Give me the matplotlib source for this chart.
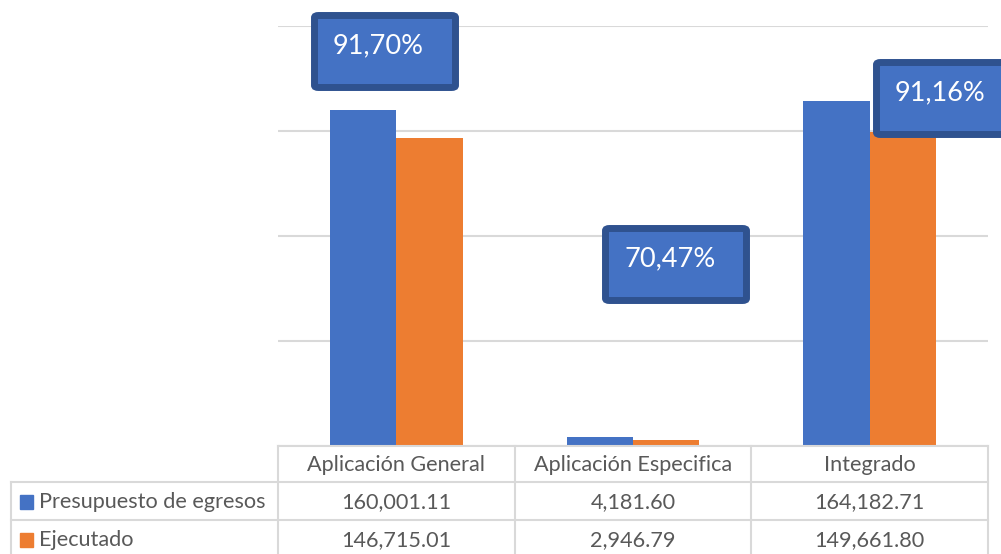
import numpy as np
import matplotlib.pyplot as plt
from matplotlib.patches import FancyBboxPatch, Rectangle
from matplotlib.lines import Line2D

# Datos
categorias = ["Aplicación General", "Aplicación Especifica", "Integrado"]
series = ["Presupuesto de egresos", "Ejecutado"]
presupuesto = [160001.11, 4181.60, 164182.71]
ejecutado = [146715.01, 2946.79, 149661.80]

colores = ["#4472c4", "#ed7d31"]
gris_texto = "#595959"
gris_linea = "#d9d9d9"
fuente = "Lato"
tam = 15.6

W, H = 1001, 554
fig = plt.figure(figsize=(W / 100, H / 100), dpi=100)


def fx(x):
    return x / W


def fy(y):
    return 1 - y / H


# Area del grafico (en pixeles de la imagen)
x0, x1, y_top, y_base = 278, 988, 26, 446
ax = fig.add_axes([fx(x0), fy(y_base), fx(x1) - fx(x0), fy(y_top) - fy(y_base)])

x = np.arange(len(categorias))
ancho = 0.28
ax.bar(x - ancho / 2, presupuesto, ancho, color=colores[0], zorder=3)
ax.bar(x + ancho / 2, ejecutado, ancho, color=colores[1], zorder=3)

ax.set_xlim(-0.5, len(categorias) - 0.5)
ax.set_ylim(0, 200000)
ax.set_yticks(np.arange(0, 200001, 50000))
ax.yaxis.grid(True, color=gris_linea, lw=1.5, zorder=0)
ax.set_axisbelow(True)
ax.set_xticks([])
ax.tick_params(left=False, labelleft=False)
for s in ax.spines.values():
    s.set_visible(False)

# Tabla de datos
def linea(xa, xb, ya, yb):
    fig.add_artist(Line2D([fx(xa), fx(xb)], [fy(ya), fy(yb)], color=gris_linea, lw=1.5))

col_w = (x1 - x0) / len(categorias)
filas_y = [446, 482, 520, 560]
centros_y = [465, 502, 540]
linea(x0, x1, filas_y[0], filas_y[0])
linea(11, x1, filas_y[1], filas_y[1])
linea(11, x1, filas_y[2], filas_y[2])
linea(11, 11, filas_y[1], filas_y[3])
for i in range(len(categorias) + 1):
    xc = x0 + i * col_w
    linea(xc, xc, filas_y[0], filas_y[3])

for i, cat in enumerate(categorias):
    xc = x0 + (i + 0.5) * col_w
    fig.text(fx(xc), fy(centros_y[0]), cat, ha="center", va="center", fontsize=tam,
             color=gris_texto, family=fuente)
    for j, valores in enumerate([presupuesto, ejecutado]):
        fig.text(fx(xc), fy(centros_y[j + 1]), f"{valores[i]:,.2f}", ha="center",
                 va="center", fontsize=tam, color=gris_texto, family=fuente)

for j, nombre in enumerate(series):
    yc = centros_y[j + 1]
    fig.add_artist(Rectangle((fx(20), fy(yc + 7)), fx(13), 14 / H, color=colores[j]))
    fig.text(fx(39), fy(yc), nombre, ha="left", va="center", fontsize=tam,
             color=gris_texto, family=fuente)

# Etiquetas de porcentaje de ejecucion
cajas = [(311, 12), (602, 225), (873, 59)]
for i, (bx, by) in enumerate(cajas):
    pct = ejecutado[i] / presupuesto[i] * 100
    etiqueta = f"{pct:.2f}%".replace(".", ",")
    b = 3.5
    fig.add_artist(FancyBboxPatch((fx(bx + b), fy(by + 79 - b)), fx(148 - 2 * b),
                                  (79 - 2 * b) / H,
                                  boxstyle="round,pad=0,rounding_size=0.004",
                                  facecolor="#4472c4", edgecolor="#2f528f", lw=5))
    fig.text(fx(bx + 22), fy(by + 34), etiqueta, ha="left", va="center",
             fontsize=19.5, color="white", family=fuente)

fig.savefig("out.png", dpi=100)
